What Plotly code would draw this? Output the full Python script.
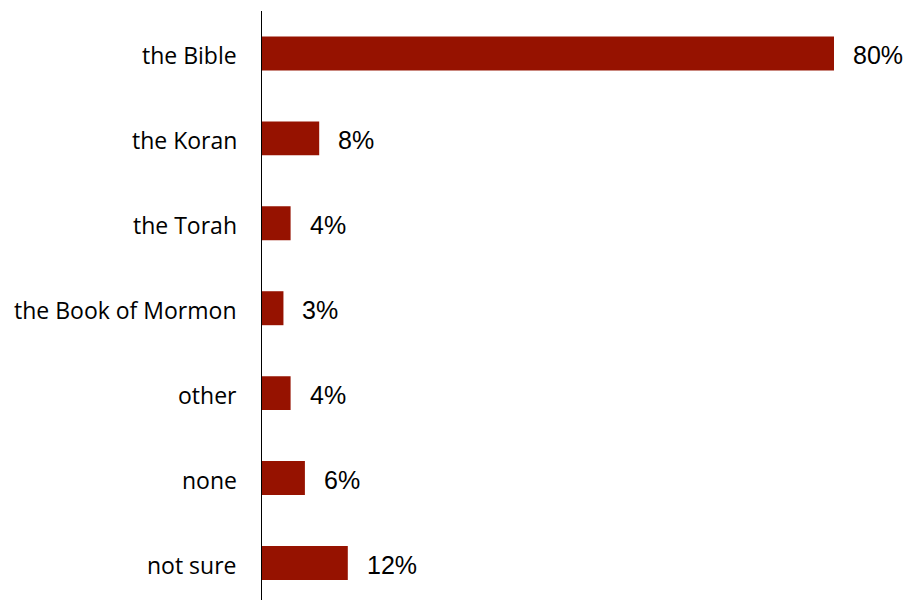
import plotly.graph_objects as go

# Survey answers and shares (%)
categories = ["the Bible", "the Koran", "the Torah", "the Book of Mormon",
              "other", "none", "not sure"]
values = [80, 8, 4, 3, 4, 6, 12]
value_labels = [f"{v}%" for v in values]

bar_color = "#961200"

fig = go.Figure()
fig.add_trace(go.Bar(
    x=values,
    y=categories,
    orientation="h",
    width=0.4,
    marker=dict(color=bar_color, line=dict(width=0)),
    hoverinfo="skip",
))

for cat, v, lab in zip(categories, values, value_labels):
    # value label just right of the bar end
    fig.add_annotation(
        x=v, y=cat, text=lab, showarrow=False,
        xanchor="left", yanchor="middle", xshift=17, yshift=-2,
        font=dict(family="Liberation Sans, Arial, sans-serif", size=25, color="#000000"),
    )
    # category label left of the axis line
    fig.add_annotation(
        x=0, y=cat, text=cat, showarrow=False,
        xanchor="right", yanchor="middle", xshift=-23, yshift=-2,
        font=dict(family="Open Sans, sans-serif", size=23, color="#000000"),
    )

fig.update_layout(
    width=911, height=600,
    margin=dict(l=262, r=0, t=11, b=0),
    paper_bgcolor="white",
    plot_bgcolor="white",
    showlegend=False,
    xaxis=dict(
        range=[0, 649 / 7.15],
        visible=False,
        showgrid=False,
        zeroline=False,
    ),
    yaxis=dict(
        categoryorder="array",
        categoryarray=categories,
        range=[6.436, -0.5],
        showgrid=False,
        zeroline=False,
        showline=True,
        linecolor="#000000",
        linewidth=1,
        ticks="",
        showticklabels=False,
    ),
)

fig.write_html("out.html")
